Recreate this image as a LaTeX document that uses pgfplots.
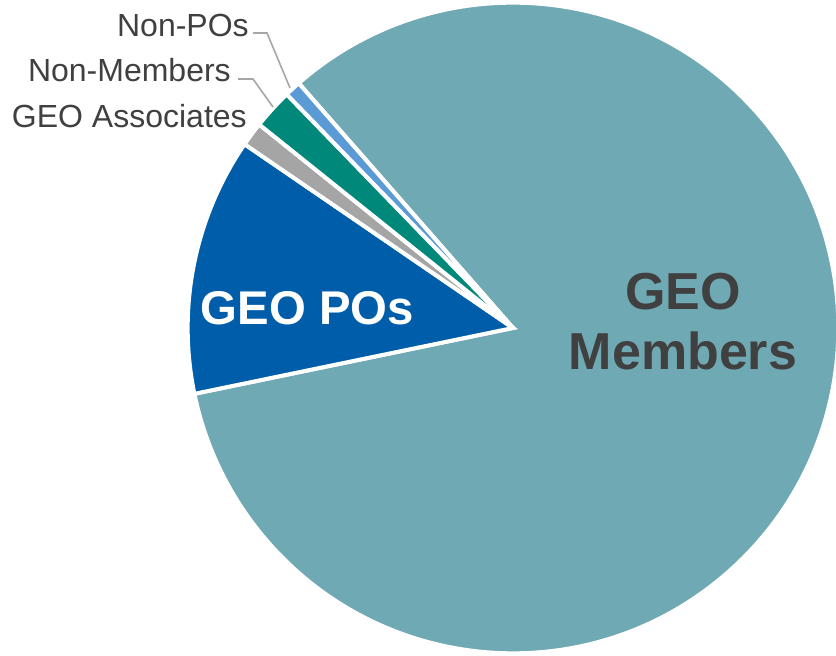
\documentclass[border=0pt]{standalone}
\usepackage{pgfplots}
\pgfplotsset{compat=1.18}
\usepackage{fontspec}
\setmainfont{Liberation Sans}
\definecolor{cMem}{HTML}{6FA9B4}
\definecolor{cPO}{HTML}{005DAA}
\definecolor{cAssoc}{HTML}{A5A5A5}
\definecolor{cNonMem}{HTML}{00897B}
\definecolor{cNonPO}{HTML}{5B9BD5}
\definecolor{lbl}{HTML}{404040}
\definecolor{leader}{HTML}{A6A6A6}
\begin{document}
\begin{tikzpicture}
% shares in percent, clockwise from the Non-POs / Members edge
\pgfmathsetmacro\aA{131.2}
\pgfmathsetmacro\aB{\aA-83.2*3.6}% GEO Members
\pgfmathsetmacro\aC{\aB-12.8*3.6}% GEO POs
\pgfmathsetmacro\aD{\aC-1.2*3.6}% GEO Associates
\pgfmathsetmacro\aE{\aD-2.0*3.6}% Non-Members
\pgfmathsetmacro\aF{\aE-0.8*3.6}% Non-POs
\begin{axis}[x=0.75pt, y=0.75pt, xmin=0, xmax=836, ymin=0, ymax=656,
    hide axis, clip=false, scale only axis]
  \path (axis cs:0,0) rectangle (axis cs:836,656);
  % wedges as overlay, so the arc control points do not grow the page
  \begin{scope}[overlay]
  \filldraw[fill=cMem, draw=white, line width=3pt] (axis cs:513,328) -- +(\aA:244pt) arc[start angle=\aA, end angle=\aB, radius=244pt] -- cycle;
  \filldraw[fill=cPO, draw=white, line width=3pt] (axis cs:513,328) -- +(\aB:244pt) arc[start angle=\aB, end angle=\aC, radius=244pt] -- cycle;
  \filldraw[fill=cAssoc, draw=white, line width=3pt] (axis cs:513,328) -- +(\aC:244pt) arc[start angle=\aC, end angle=\aD, radius=244pt] -- cycle;
  \filldraw[fill=cNonMem, draw=white, line width=3pt] (axis cs:513,328) -- +(\aD:244pt) arc[start angle=\aD, end angle=\aE, radius=244pt] -- cycle;
  \filldraw[fill=cNonPO, draw=white, line width=3pt] (axis cs:513,328) -- +(\aE:244pt) arc[start angle=\aE, end angle=\aF, radius=244pt] -- cycle;
  \end{scope}
  % leader lines
  \draw[leader, line width=1.2pt] (axis cs:253,623) -- (axis cs:267,623) -- (axis cs:290,568);
  \draw[leader, line width=1.2pt] (axis cs:238,577) -- (axis cs:253,577) -- (axis cs:273,549);
  % labels
  \node[anchor=base east, inner sep=0, text=lbl, font=\fontsize{24}{28}\selectfont] at (axis cs:249,619) {Non-POs};
  \node[anchor=base east, inner sep=0, text=lbl, font=\fontsize{24}{28}\selectfont] at (axis cs:231,574) {Non-Members};
  \node[anchor=base east, inner sep=0, text=lbl, font=\fontsize{24}{28}\selectfont] at (axis cs:247,528) {GEO Associates};
  \node[anchor=base, inner sep=0, text=white, font=\fontsize{35.5}{42}\selectfont\bfseries] at (axis cs:307.5,331) {GEO POs};
  \node[anchor=base, inner sep=0, text=lbl, font=\fontsize{39}{46}\selectfont\bfseries] at (axis cs:683,346) {GEO};
  \node[anchor=base, inner sep=0, text=lbl, font=\fontsize{39}{46}\selectfont\bfseries] at (axis cs:683,286) {Members};
\end{axis}
\end{tikzpicture}
\end{document}
